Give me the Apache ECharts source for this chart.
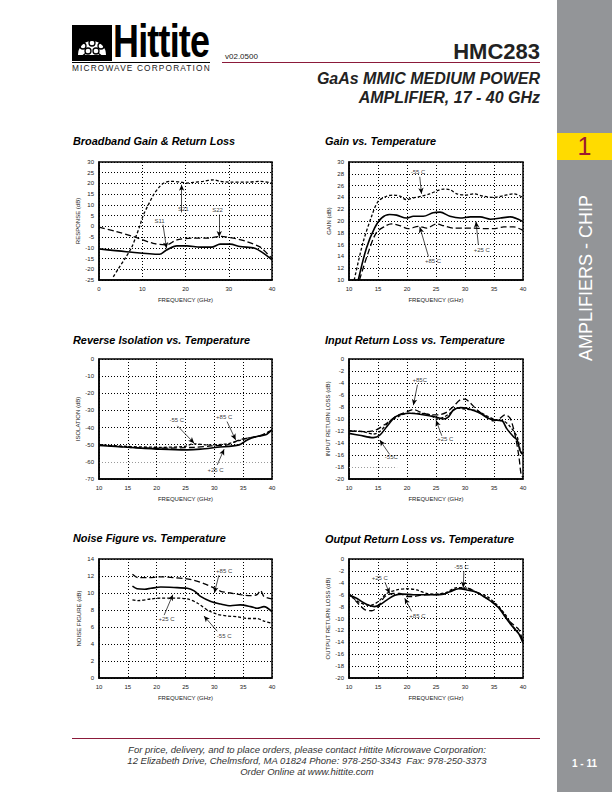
<!DOCTYPE html>
<html>
<head>
<meta charset="utf-8">
<title>HMC283</title>
<script src="https://cdn.jsdelivr.net/npm/echarts@6/dist/echarts.min.js"></script>
<style>
  html, body { margin: 0; padding: 0; background: #fff; }
  #page { position: relative; width: 612px; height: 792px; overflow: hidden; font-family: 'Liberation Sans', Arial, Helvetica, sans-serif; }
  #charts { position: absolute; left: 0; top: 0; width: 612px; height: 792px; }
  .abs { position: absolute; white-space: nowrap; }
  .title { font-weight: bold; font-style: italic; font-size: 10.9px; color: #000; line-height: 12px; }
  .side { position: absolute; left: 557px; top: 0; width: 55px; height: 792px; background: #939598; }
  .band { position: absolute; left: 557px; top: 133px; width: 55px; height: 27px; background: #ffdb00; }
</style>
</head>
<body>
<div id="page">
  <div class="side"></div>
  <div class="band"></div>
  <div class="abs" style="left:557px;width:55px;top:133px;text-align:center;font-size:25px;line-height:27px;color:#9b1b30;">1</div>
  <div class="abs" style="left:586px;top:278px;transform:translate(-50%,-50%) rotate(-90deg);font-size:18px;color:#fff;line-height:18px;">AMPLIFIERS - CHIP</div>
  <div class="abs" style="left:557px;width:55px;top:758px;text-align:center;font-size:10px;line-height:12px;font-weight:bold;color:#fff;">1 - 11</div>

  <!-- logo -->
  <svg class="abs" style="left:72px;top:25px;" width="40" height="36" viewBox="0 0 40 36">
    <rect x="0" y="0" width="40" height="36" fill="#000"/>
    <path d="M6 30 A14 14 0 1 1 34 30 Z" fill="#fff"/>
    <g stroke="#000" stroke-width="1.3" fill="none">
      <circle cx="13" cy="13" r="3"/><circle cx="20" cy="10" r="3"/><circle cx="27" cy="13" r="3"/>
      <circle cx="11" cy="21" r="3"/><circle cx="20" cy="18" r="3"/><circle cx="29" cy="21" r="3"/>
      <circle cx="16" cy="26" r="3"/><circle cx="24" cy="26" r="3"/>
      <path d="M8 33 L14 28 M32 33 L26 28 M20 30 L20 36"/>
    </g>
  </svg>
  <div class="abs" style="left:113px;top:24px;font-weight:bold;font-size:46px;line-height:34px;letter-spacing:-1px;color:#000;transform:scaleX(0.78);transform-origin:0 0;">Hittite</div>
  <div class="abs" style="left:72px;top:62px;width:138px;border-top:1px solid #000;"></div>
  <div class="abs" style="left:72px;top:64px;font-size:8.3px;line-height:8px;letter-spacing:1.15px;color:#222;">MICROWAVE CORPORATION</div>

  <div class="abs" style="left:225px;top:52px;font-size:8px;line-height:9px;color:#222;">v02.0500</div>
  <div class="abs" style="right:72px;top:39px;font-size:22px;font-weight:bold;color:#222;">HMC283</div>
  <div class="abs" style="left:222px;top:62px;width:318px;border-top:1px solid #8b1a3a;"></div>
  <div class="abs" style="right:72px;top:69px;font-size:16px;font-weight:bold;font-style:italic;color:#222;line-height:19px;text-align:right;">GaAs MMIC MEDIUM POWER<br>AMPLIFIER, 17 - 40 GHz</div>

  <!-- chart titles -->
  <div class="abs title" style="left:73px;top:135px;">Broadband Gain &amp; Return Loss</div>
  <div class="abs title" style="left:325px;top:135px;">Gain vs. Temperature</div>
  <div class="abs title" style="left:73px;top:334px;">Reverse Isolation vs. Temperature</div>
  <div class="abs title" style="left:325px;top:334px;">Input Return Loss vs. Temperature</div>
  <div class="abs title" style="left:73px;top:532px;">Noise Figure vs. Temperature</div>
  <div class="abs title" style="left:325px;top:533px;">Output Return Loss vs. Temperature</div>

  <!-- footer -->
  <div class="abs" style="left:72px;top:738px;width:468px;border-top:1px solid #8b1a3a;"></div>
  <div class="abs" style="left:72px;width:470px;top:744px;text-align:center;font-size:9.5px;font-style:italic;color:#333;line-height:11px;">For price, delivery, and to place orders, please contact Hittite Microwave Corporation:<br>12 Elizabeth Drive, Chelmsford, MA 01824 Phone: 978-250-3343&nbsp; Fax: 978-250-3373<br>Order Online at www.hittite.com</div>

  <div id="charts"></div>
</div>

<script>
  const FONT = "'Liberation Sans', Arial, Helvetica, sans-serif"

  // Broadband Gain & Return Loss  [GHz, dB]
  const bbS21 = [[3.3, -23.5], [4.4, -20], [6, -15], [7.5, -10], [8.5, -5], [9.4, 0], [10.2, 5], [11.4, 10], [12.7, 15], [14, 18.5], [15, 20.2], [16.5, 21], [18.7, 20.7], [20.3, 20.2], [21.8, 20.5], [24.1, 21], [26.5, 21.7], [28, 21], [30.3, 20.6], [34.2, 20.6], [37.3, 21], [40, 20.2]]
  const bbS11 = [[0, -10.5], [6.3, -11.8], [14, -13], [15.6, -11], [18, -9.1], [20.3, -9.1], [23.4, -9.7], [26, -9.7], [28, -8.3], [30.3, -8.3], [32.6, -9.4], [36, -10.2], [38, -12.5], [40, -15.6]]
  const bbS22 = [[0, -0.4], [4, -2.4], [7.9, -4.7], [12.5, -7.9], [15.6, -8.6], [18, -6.3], [21.8, -5.5], [24.9, -5.5], [28, -4.7], [31.1, -5.5], [34.2, -7.1], [37.3, -9.7], [38.8, -12.5], [40, -14.9]]

  // Gain vs. Temperature
  const gainM55 = [[10.9, 10], [12.4, 16.3], [13.9, 20.8], [15, 23.3], [16.5, 24.2], [17.6, 24.4], [18.8, 24.2], [19.9, 23.6], [21.1, 23.9], [22.5, 24.2], [23.9, 24.6], [26.3, 25.4], [27.4, 25.3], [28.6, 24.6], [30.3, 24.4], [31.5, 24.6], [33.2, 24.2], [34.9, 24], [36.7, 24.3], [38.4, 24.6], [40, 24]]
  const gainP25 = [[11.6, 10], [13, 15.4], [14.4, 18.8], [15.6, 20.5], [17, 21.1], [18.2, 21], [19.9, 20.5], [21.1, 20.8], [22.8, 20.8], [24.5, 21.4], [25.7, 21.5], [27.4, 20.8], [29.2, 20.5], [30.9, 20.7], [32.6, 20.7], [34.4, 20.3], [36.1, 20.5], [37.8, 20.7], [40, 19.9]]
  const gainP85 = [[11.8, 10], [13.3, 14.6], [14.7, 18], [16.2, 19.1], [17.3, 19.5], [18.8, 19.2], [20.2, 18.7], [22, 19.1], [23.4, 18.8], [25.1, 19.5], [26.3, 19.2], [28, 18.8], [29.7, 18.8], [31.5, 18.8], [33.2, 18.7], [34.9, 18.7], [36.7, 19], [38.4, 19], [40, 18.4]]

  // Reverse Isolation vs. Temperature
  const isoP25 = [[10, -50.5], [15, -51.5], [20.7, -52.6], [25.3, -53], [27.6, -52.6], [30.5, -51.5], [34.3, -50.1], [35.7, -47.2], [37.4, -45.2], [38.9, -44.2], [40, -41.3]]
  const isoM55 = [[10, -50], [15, -51], [20.7, -51.5], [24.7, -51], [26.5, -49.5], [28.8, -50.1], [32.2, -49.5], [34.3, -47.6], [35.7, -46.2], [38, -44.8], [40, -41.7]]
  const isoP85 = [[10, -50], [15, -51.5], [20.7, -52], [26.5, -51.5], [29.4, -50.7], [32.2, -50.1], [34.3, -47.2], [35.7, -46.2], [38, -44.6], [40, -41.3]]

  // Input Return Loss vs. Temperature
  const irlP25 = [[10, -12.4], [11.8, -12.7], [14.2, -13.1], [15.3, -12.7], [16.5, -11.3], [17.9, -9.7], [19.1, -9.2], [20.5, -9.05], [22.2, -9.2], [24, -9.5], [25.1, -9.7], [26.3, -10], [27.1, -9.7], [28, -8.5], [29.2, -8.1], [30.3, -8.2], [31.5, -8.6], [32.6, -9.05], [34.1, -9.9], [35.5, -10.2], [36.4, -10.3], [37.2, -11.6], [38.4, -13], [39, -13.5], [39.5, -15.3], [40, -15.8]]
  const irlM55 = [[10, -11.95], [12.4, -12.1], [14.2, -12.5], [15.3, -12.1], [17, -10.4], [18.5, -9.6], [20, -9.05], [22, -9.05], [24, -9.3], [25.1, -10], [26.3, -9.7], [27.4, -9.05], [28.6, -8.2], [30.3, -8.4], [32, -8.6], [33.8, -9.5], [35.5, -10.2], [36.6, -10.3], [37.8, -11.3], [39, -13], [39.6, -15.5], [40, -16]]
  const irlP85 = [[10, -12], [12.9, -12.1], [14.7, -11.8], [16.5, -10.7], [18.2, -9.5], [20, -8.8], [21.1, -8.4], [22.2, -8.8], [24, -9.3], [25.4, -9.3], [26.8, -8.9], [28, -7.9], [29.2, -6.8], [30, -6.7], [30.9, -7.3], [32, -8.4], [33.5, -9.5], [34.9, -10.3], [36, -9.9], [36.9, -9.3], [37.8, -9.9], [38.7, -13], [39.3, -16.3], [39.7, -19.4], [40, -19.7]]

  // Noise Figure vs. Temperature
  const nfP85 = [[15.8, 12.2], [16.8, 11.8], [18.4, 11.8], [20.7, 11.9], [23, 11.8], [24.8, 11.7], [26.5, 11.5], [28.2, 11.1], [29.9, 10.6], [31.1, 10.2], [32.8, 10], [34.5, 9.8], [36.3, 9.7], [37.4, 9.8], [38, 10.3], [38.6, 9.6], [40, 9.3]]
  const nfP25 = [[15.8, 10.8], [16.6, 10.5], [17.9, 10.45], [19, 10.55], [20.7, 10.7], [23, 10.65], [25.3, 10.55], [26.5, 10.25], [27.6, 9.6], [29.4, 9], [31.1, 8.7], [32.8, 8.5], [34.5, 8.6], [36.3, 8.4], [37.4, 8.2], [38.6, 8.4], [40, 7.8]]
  const nfM55 = [[15.8, 9.2], [16.7, 9.1], [19, 9.3], [20.7, 9.4], [23, 9.4], [25.3, 9.3], [27.1, 8.8], [28.8, 8], [30.5, 7.5], [32.2, 7.3], [34, 7.2], [35.7, 7], [37.4, 7], [38.6, 6.7], [40, 6.45]]

  // Output Return Loss vs. Temperature
  const orlP25 = [[10, -6], [11.3, -6.6], [13, -7.6], [14.4, -8], [15.3, -7.7], [16.5, -6.9], [17.9, -6.1], [19.3, -5.9], [21.1, -6], [22.8, -6], [24.5, -6], [26.3, -5.9], [27.4, -5.5], [28.9, -5], [30.3, -5.2], [32, -5.6], [33.2, -6.3], [34.6, -7.2], [35.8, -8.2], [36.7, -9.4], [37.5, -10.5], [38.4, -11.6], [39.3, -12.6], [40, -14.1]]
  const orlP85 = [[10, -5.8], [11.3, -7.2], [12.7, -8.5], [13.9, -8.7], [15, -8], [16.2, -6.3], [17.6, -5.8], [18.8, -5.8], [19.9, -6.3], [21.1, -6.3], [22.2, -6.1], [24, -6], [26.3, -5.9], [28.6, -5], [30.3, -4.9], [32, -5.6], [34.3, -6.9], [36, -8.3], [37.2, -10], [38.4, -11.1], [39.3, -11.9], [40, -14]]
  const orlM55 = [[10, -6], [11.8, -7.3], [13.6, -7.8], [15, -7.2], [16.5, -5.8], [18.2, -5.2], [19.9, -5], [21.7, -5.2], [23.4, -5.8], [25.1, -5.9], [26.8, -5.6], [28.6, -4.8], [30.3, -4.9], [32, -5.6], [33.8, -6.3], [35.5, -7.7], [37, -9.4], [38.1, -11.1], [39, -12.2], [39.6, -13], [40, -13.8]]

  // annotation texts [text, GHz, dB] and arrows [x1, y1, x2, y2]
  const bbNotes = [['S21', 19.5, 8.2], ['S11', 14, 2.7], ['S22', 27.4, 7.7]]
  const bbArrows = [[19.1, 6.5, 19.1, 19.4], [14.8, 0.8, 15.6, -10.2], [27.8, 5.5, 27.8, -5]]
  const gainNotes = [['-55 C', 21.9, 28.3], ['+25 C', 32.9, 15.1], ['+85 C', 24.5, 13.3]]
  const gainArrows = [[22.2, 27.5, 22.5, 24.6], [32.3, 16, 31.9, 19.9], [23.7, 14, 22.2, 19]]
  const isoNotes = [['-55 C', 23.5, -35.5], ['+85 C', 31.7, -33.9], ['+25 C', 30.2, -64.7]]
  const isoArrows = [[23.6, -39, 26.5, -49.1], [32.2, -36.5, 33.7, -47.2], [30.5, -61.8, 31.7, -52.6]]
  const irlNotes = [['+85C', 22.2, -3.5], ['+25 C', 26.6, -13.4], ['-55C', 17.3, -16.4]]
  const irlArrows = [[21.8, -4.3, 21.1, -7.7], [26, -12.8, 25, -10.2], [17, -15.9, 15.3, -13.5]]
  const nfNotes = [['+85 C', 31.7, 12.6], ['+25 C', 21.7, 6.9], ['-55 C', 31.7, 5]]
  const nfArrows = [[30.8, 12.1, 30, 10], [21.3, 7.4, 22.8, 9.8], [30.5, 5.5, 28.2, 7.3]]
  const orlNotes = [['-55 C', 29.4, -1.4], ['+25 C', 15.3, -3.2], ['+85 C', 21.8, -9.5]]
  const orlArrows = [[29.8, -2.1, 29.7, -4.8], [16.2, -3.9, 17, -5.8], [20.8, -8.8, 19.6, -6.6]]

  const LINE = {
    solid: { type: 'solid', width: 1.6 },
    short: { type: [3, 2], width: 1.3 },
    long: { type: [6, 3], width: 1.3 }
  }

  function curve (idx, data, style) {
    return {
      type: 'line',
      xAxisIndex: idx,
      yAxisIndex: idx,
      data: data,
      showSymbol: false,
      smooth: 0.3,
      silent: true,
      lineStyle: Object.assign({ color: '#000' }, LINE[style])
    }
  }

  function notes (idx, texts, arrows) {
    return {
      type: 'scatter',
      xAxisIndex: idx,
      yAxisIndex: idx,
      symbolSize: 1,
      silent: true,
      itemStyle: { color: 'rgba(0,0,0,0)' },
      data: texts.map(t => ({ name: t[0], value: [t[1], t[2]] })),
      label: { show: true, position: 'inside', formatter: '{b}', fontSize: 6, color: '#000', fontFamily: FONT },
      markLine: {
        silent: true,
        symbol: ['none', 'arrow'],
        symbolSize: [4, 6],
        label: { show: false },
        lineStyle: { color: '#000', width: 0.7, type: 'solid' },
        data: arrows.map(a => [{ coord: [a[0], a[1]] }, { coord: [a[2], a[3]] }])
      }
    }
  }

  const gridBox = [
    [99, 162, 173, 118],
    [349, 162, 174, 118],
    [99, 359, 173, 120],
    [349, 359, 174, 120],
    [99, 559, 173, 119],
    [349, 559, 174, 119]
  ]

  // [min, max, interval] for x and y, plus y axis name
  const xRange = [[0, 40, 10], [10, 40, 5], [10, 40, 5], [10, 40, 5], [10, 40, 5], [10, 40, 5]]
  const yRange = [[-25, 30, 5], [10, 30, 2], [-70, 0, 10], [-20, 0, 2], [0, 14, 2], [-20, 0, 2]]
  const yNames = ['RESPONSE (dB)', 'GAIN (dB)', 'ISOLATION (dB)', 'INPUT RETURN LOSS (dB)', 'NOISE FIGURE (dB)', 'OUTPUT RETURN LOSS (dB)']

  const dotted = { color: '#000', width: 1, type: [1, 2] }
  const labelStyle = { fontSize: 6, color: '#222', fontFamily: FONT }

  function splitColors (idx) {
    const n = Math.round((yRange[idx][1] - yRange[idx][0]) / yRange[idx][2]) + 1
    const c = new Array(n).fill('#000')
    if (idx === 2) c[1] = '#9a9a9a'
    if (idx === 3) c[1] = 'rgba(0,0,0,0)'
    return c
  }

  const option = {
    animation: false,
    grid: gridBox.map(g => ({
      left: g[0], top: g[1], width: g[2], height: g[3],
      show: true, borderColor: '#000', borderWidth: 1.5, backgroundColor: 'transparent'
    })),
    xAxis: xRange.map((r, i) => ({
      type: 'value',
      gridIndex: i,
      min: r[0], max: r[1], interval: r[2],
      name: 'FREQUENCY (GHz)',
      nameLocation: 'middle',
      nameGap: 17,
      nameTextStyle: labelStyle,
      axisLine: { show: true, onZero: false, lineStyle: { color: '#000', width: 1.5 } },
      axisTick: { show: false },
      axisLabel: Object.assign({ margin: 6 }, labelStyle),
      splitLine: { show: true, lineStyle: dotted }
    })),
    yAxis: yRange.map((r, i) => ({
      type: 'value',
      gridIndex: i,
      min: r[0], max: r[1], interval: r[2],
      name: yNames[i],
      nameLocation: 'middle',
      nameGap: 17,
      nameTextStyle: labelStyle,
      axisLine: { show: true, onZero: false, lineStyle: { color: '#000', width: 1.5 } },
      axisTick: { show: false },
      axisLabel: Object.assign({ margin: 5 }, labelStyle),
      splitLine: { show: true, lineStyle: Object.assign({}, dotted, { color: splitColors(i) }) }
    })),
    series: [
      curve(0, bbS21, 'short'), curve(0, bbS22, 'long'), curve(0, bbS11, 'solid'),
      notes(0, bbNotes, bbArrows),
      curve(1, gainM55, 'short'), curve(1, gainP25, 'solid'), curve(1, gainP85, 'long'),
      notes(1, gainNotes, gainArrows),
      curve(2, isoM55, 'short'), curve(2, isoP85, 'long'), curve(2, isoP25, 'solid'),
      notes(2, isoNotes, isoArrows),
      curve(3, irlM55, 'short'), curve(3, irlP85, 'long'), curve(3, irlP25, 'solid'),
      notes(3, irlNotes, irlArrows),
      {
        // partial light grid line at -18 dB
        type: 'line', xAxisIndex: 3, yAxisIndex: 3, data: [], silent: true,
        markLine: {
          silent: true, symbol: ['none', 'none'], label: { show: false },
          lineStyle: { color: '#9a9a9a', width: 1, type: [1, 2] },
          data: [[{ coord: [10, -18] }, { coord: [18.3, -18] }]]
        }
      },
      curve(4, nfP85, 'long'), curve(4, nfP25, 'solid'), curve(4, nfM55, 'short'),
      notes(4, nfNotes, nfArrows),
      curve(5, orlM55, 'short'), curve(5, orlP85, 'long'), curve(5, orlP25, 'solid'),
      notes(5, orlNotes, orlArrows)
    ]
  }

  const chart = echarts.init(document.getElementById('charts'), null, { renderer: 'svg' })
  chart.setOption(option)
</script>
</body>
</html>
